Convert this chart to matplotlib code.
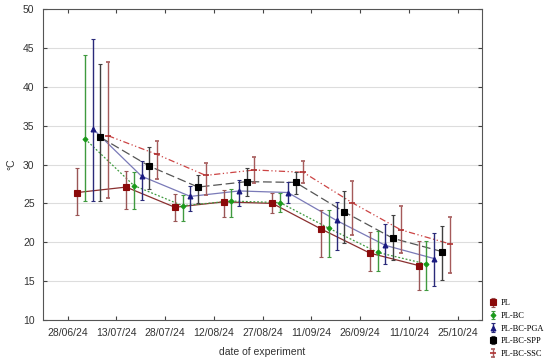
import numpy as np
import matplotlib
matplotlib.use("Agg")
import matplotlib.pyplot as plt

# days since 28/06/24 for the measurement dates
days = [3, 18, 33, 48, 63, 78, 93, 108]
tick_labels = ["28/06/24", "13/07/24", "28/07/24", "12/08/24", "27/08/24",
               "11/09/24", "26/09/24", "11/10/24", "25/10/24"]

pl = [26.4, 27.1, 24.5, 25.2, 25.0, 21.7, 18.6, 17.0]
pl_lo = [23.5, 24.3, 22.7, 23.3, 23.8, 18.1, 16.3, 13.8]
pl_hi = [29.6, 29.2, 26.2, 26.7, 26.3, 24.1, 21.3, 20.1]

bc = [33.3, 27.3, 24.7, 25.3, 25.1, 21.8, 18.7, 17.2]
bc_lo = [25.3, 24.3, 22.7, 23.3, 23.9, 18.1, 16.3, 13.8]
bc_hi = [44.1, 29.1, 26.1, 26.8, 26.3, 24.1, 21.4, 20.1]

pga = [34.6, 28.5, 25.9, 26.6, 26.4, 22.8, 19.6, 17.9]
pga_lo = [25.3, 25.5, 24.0, 24.7, 25.0, 19.0, 17.2, 14.4]
pga_hi = [46.2, 30.5, 27.3, 28.0, 27.8, 25.2, 22.3, 21.2]

spp = [33.5, 29.8, 27.1, 27.8, 27.7, 23.9, 20.5, 18.8]
spp_lo = [25.3, 26.8, 25.1, 25.9, 26.2, 19.9, 17.7, 15.2]
spp_hi = [42.9, 32.3, 28.6, 29.5, 29.0, 26.6, 23.5, 22.1]

ssc = [33.7, 31.3, 28.6, 29.3, 29.0, 25.1, 21.6, 19.8]
ssc_lo = [25.7, 28.1, 26.1, 27.6, 27.6, 20.9, 18.6, 16.0]
ssc_hi = [43.2, 33.0, 30.2, 31.0, 30.4, 27.9, 24.7, 23.3]

names = ["PL", "PL-BC", "PL-BC-PGA", "PL-BC-SPP", "PL-BC-SSC"]

series = [
    # mean, lo, hi, line colour, linestyle, marker, marker colour, marker size, bar colour
    (pl, pl_lo, pl_hi, "#8a2f2f", "-", "s", "#8b0a0a", 5, "#9a5656"),
    (bc, bc_lo, bc_hi, "#3f9a3f", (0, (1.5, 1.5)), "D", "#1a9a1a", 2.5, "#3f9a3f"),
    (pga, pga_lo, pga_hi, "#7a7ab8", "-", "^", "#1a1a80", 3.5, "#2a2a7a"),
    (spp, spp_lo, spp_hi, "#555555", (0, (7, 3)), "s", "#000000", 4.5, "#404040"),
    (ssc, ssc_lo, ssc_hi, "#cc4444", (0, (5, 2, 1, 2, 1, 2)), "_", "#b03030", 5, "#a55a5a"),
]

plt.rcParams["font.family"] = ["Liberation Sans", "DejaVu Sans"]

fig = plt.figure(figsize=(5.5, 3.63), dpi=100)
ax = fig.add_axes([0.078, 0.1185, 0.798, 0.8565])

offset = 2.37
handles = []
for k, (m, lo, hi, lc, ls, mk, mc, ms, ec) in enumerate(series):
    x = np.array(days) + k * offset
    m = np.array(m)
    err = [m - np.array(lo), np.array(hi) - m]
    ax.plot(x, m, color=lc, linestyle=ls, linewidth=0.9, zorder=2)
    h = ax.errorbar(x, m, yerr=err, fmt=mk, color=mc, markersize=ms,
                    ecolor=ec, elinewidth=1.0, capsize=1.2, capthick=0.5,
                    markeredgewidth=0.8 if mk != "_" else 1.2, zorder=3)
    handles.append(h)

ax.set_xlim(-7.6, 127.4)
ax.set_ylim(10, 50)
ax.set_xticks(np.arange(0, 121, 15))
ax.set_xticklabels(tick_labels)
ax.set_yticks(np.arange(10, 51, 5))
ax.grid(axis="y", color="#dddddd", linewidth=0.8)
ax.set_axisbelow(True)
ax.tick_params(direction="in", top=True, right=True, length=3, labelsize=7.5,
               colors="#444444", labelcolor="#333333", pad=6)
for s in ax.spines.values():
    s.set_color("#555555")
    s.set_linewidth(0.8)

ax.set_xlabel("date of experiment", fontsize=7.5, color="#333333", labelpad=6)
ax.set_ylabel("°C", fontsize=7.5, color="#333333", labelpad=5)

leg = ax.legend(handles, names, loc="lower left", bbox_to_anchor=(1.0, -0.14),
                frameon=False, prop={"family": "Liberation Serif", "size": 6},
                handlelength=1.2, handletextpad=0.35, labelspacing=0.55,
                borderaxespad=0.3)

fig.savefig("out.png", dpi=100)
